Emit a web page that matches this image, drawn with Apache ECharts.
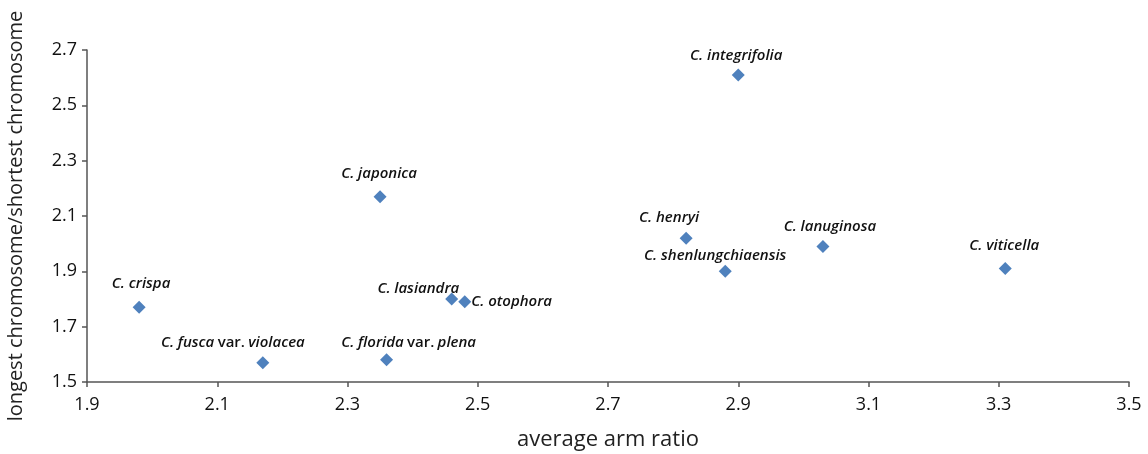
<!DOCTYPE html>
<html>
<head>
<meta charset="utf-8">
<script src="https://cdn.jsdelivr.net/npm/echarts@6/dist/echarts.min.js"></script>
<style>
html,body{margin:0;padding:0;background:#fff;}
#c{width:1148px;height:454px;}
</style>
</head>
<body>
<div id="c"></div>
<script>
// Data
const species = ['C. crispa','C. fusca','C. florida','C. japonica','C. lasiandra','C. otophora','C. integrifolia','C. henryi','C. shenlungchiaensis','C. lanuginosa','C. viticella'];
const varSuffix = ['', 'violacea', 'plena', '', '', '', '', '', '', '', ''];
const armRatio = [1.98, 2.17, 2.36, 2.35, 2.46, 2.48, 2.90, 2.82, 2.88, 3.03, 3.31];
const lengthRatio = [1.77, 1.57, 1.58, 2.17, 1.80, 1.79, 2.61, 2.02, 1.90, 1.99, 1.91];
const xTicks = [1.9, 2.1, 2.3, 2.5, 2.7, 2.9, 3.1, 3.3, 3.5];
const yTicks = [1.5, 1.7, 1.9, 2.1, 2.3, 2.5, 2.7];

// label placement (style only)
const labelPos = [
  {position:'top', offset:[2,-5]},
  {position:'top', offset:[-30,-1]},
  {position:'top', offset:[22,2]},
  {position:'top', offset:[-1,-4]},
  {position:'left', offset:[19,-10]},
  {position:'right', offset:[-5,0]},
  {position:'top', offset:[-2,0]},
  {position:'top', offset:[-17,-1]},
  {position:'top', offset:[-10,3]},
  {position:'top', offset:[7,-1]},
  {position:'top', offset:[-1,-4]}
];

const data = species.map((s, i) => {
  const fmt = varSuffix[i] ? '{i|' + s + '} {n|var.} {i|' + varSuffix[i] + '}' : '{i|' + s + '}';
  return {
    value: [armRatio[i], lengthRatio[i]],
    label: Object.assign({show:true, formatter: fmt}, labelPos[i])
  };
});

const fontFam = '"Open Sans", "Noto Sans", sans-serif';
const chart = echarts.init(document.getElementById('c'), null, {renderer:'canvas'});
chart.setOption({
  animation:false,
  grid:{left:87, right:19, top:50, bottom:72, containLabel:false, outerBoundsMode:'none'},
  xAxis:{
    type:'value', min:xTicks[0], max:xTicks[xTicks.length-1], interval:0.2,
    name:'average arm ratio', nameLocation:'middle', nameGap:47,
    nameTextStyle:{fontSize:22, color:'#222', fontFamily:fontFam},
    axisLine:{show:true, lineStyle:{color:'#555', width:1.5}},
    axisTick:{show:true, length:5, lineStyle:{color:'#555', width:1.5}},
    axisLabel:{fontSize:18, color:'#111', margin:14, fontFamily:fontFam,
      formatter: v => v.toFixed(1)},
    splitLine:{show:false}
  },
  yAxis:{
    type:'value', min:yTicks[0], max:yTicks[yTicks.length-1], interval:0.2,
    name:'longest chromosome/shortest chromosome', nameLocation:'middle', nameGap:61,
    nameTextStyle:{fontSize:20, color:'#222', fontFamily:fontFam},
    axisLine:{show:true, lineStyle:{color:'#555', width:1.5}},
    axisTick:{show:true, length:5, lineStyle:{color:'#555', width:1.5}},
    axisLabel:{fontSize:18, color:'#111', margin:10, fontFamily:fontFam,
      formatter: v => v.toFixed(1)},
    splitLine:{show:false}
  },
  series:[{
    type:'scatter',
    symbol:'diamond',
    symbolSize:13,
    itemStyle:{color:'#4F81BD', opacity:1},
    label:{
      show:true,
      rich:{
        i:{fontSize:15, fontStyle:'italic', fontWeight:600, color:'#111', fontFamily:fontFam},
        n:{fontSize:15, fontWeight:600, color:'#111', fontFamily:fontFam}
      }
    },
    data:data
  }]
});
</script>
</body>
</html>
